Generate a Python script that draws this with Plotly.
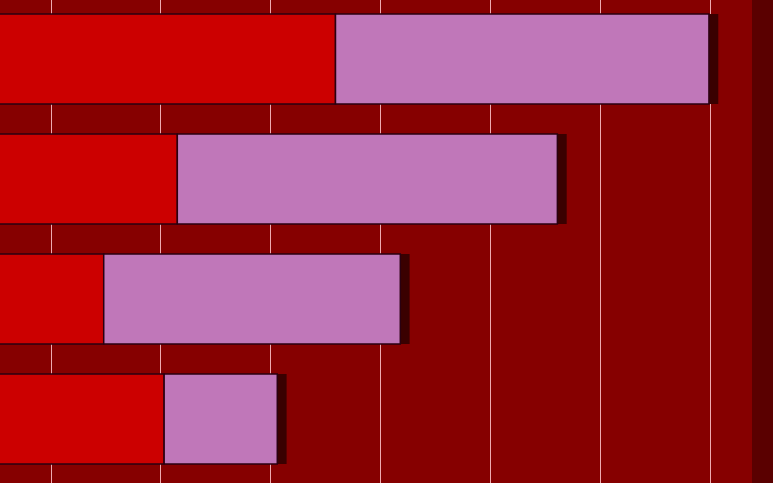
import plotly.graph_objects as go

categories = ["A", "B", "C", "D"]
red_values = [35.9, 21.5, 14.8, 20.3]
purple_values = [34.0, 34.6, 27.0, 10.3]
shadow_width = 0.85

totals = [r + p for r, p in zip(red_values, purple_values)]

fig = go.Figure()
fig.add_trace(go.Bar(
    y=categories, x=[shadow_width] * len(categories), base=totals, orientation="h",
    marker=dict(color="#3a0000", line=dict(width=0)), width=0.75, showlegend=False,
    hoverinfo="skip",
))
fig.add_trace(go.Bar(
    y=categories, x=red_values, base=[0] * len(categories), orientation="h",
    marker=dict(color="#cc0000", line=dict(color="#2a0010", width=1.5)), width=0.75, showlegend=False,
))
fig.add_trace(go.Bar(
    y=categories, x=purple_values, base=red_values, orientation="h",
    marker=dict(color="#c077b9", line=dict(color="#2a0010", width=1.5)), width=0.75, showlegend=False,
))

fig.update_layout(
    width=773, height=483,
    margin=dict(l=0, r=21, t=0, b=0),
    barmode="overlay",
    paper_bgcolor="#5a0000",
    plot_bgcolor="#860000",
    showlegend=False,
    xaxis=dict(range=[5.356, 73.82], dtick=10, tick0=0, showgrid=True,
               gridcolor="#eeaab0", gridwidth=1.2, zeroline=False,
               showticklabels=False, ticks=""),
    yaxis=dict(range=[3.533, -0.492], showgrid=False, zeroline=False,
               showticklabels=False, ticks="", type="category"),
)

fig.write_html(
    "out.html",
    config={"displayModeBar": False},
    post_script="document.body.style.margin='0';document.body.style.padding='0';"
                "document.body.style.overflow='hidden';document.body.style.background='#5a0000';",
)
